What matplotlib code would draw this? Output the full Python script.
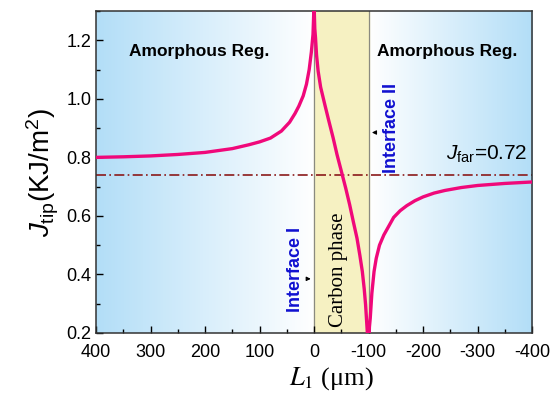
import matplotlib
matplotlib.use('Agg')
import matplotlib.pyplot as plt
from matplotlib.ticker import MultipleLocator
import numpy as np

# curve: L1 (um) vs J_tip (KJ/m^2)
x_left = [400, 350, 300, 250, 200, 150, 120, 100, 80, 60, 45, 35, 28, 20,
          14, 9, 5, 2, 0.5, 0]
j_left = [0.800, 0.802, 0.805, 0.810, 0.817, 0.830, 0.843, 0.853, 0.866,
          0.890, 0.920, 0.950, 0.975, 1.010, 1.050, 1.100, 1.160, 1.220,
          1.300, 1.350]
x_carbon = [-0.5, -1.3, -2.6, -4.5, -7.4, -12, -19.6, -27, -34.9, -42,
            -50.1, -58, -65.3, -72, -78.7, -84, -88.5, -92, -94.5, -97.6,
            -99]
j_carbon = [1.290, 1.240, 1.209, 1.150, 1.095, 1.040, 0.981, 0.925, 0.867,
            0.810, 0.752, 0.695, 0.638, 0.580, 0.524, 0.465, 0.410, 0.350,
            0.296, 0.204, 0.160]
x_right = [-100.5, -101.5, -103, -106, -110, -114, -120, -128, -137, -146,
           -158, -170, -185, -200, -220, -240, -270, -300, -350, -400]
j_right = [0.160, 0.220, 0.250, 0.336, 0.410, 0.455, 0.500, 0.535, 0.565,
           0.595, 0.618, 0.635, 0.652, 0.665, 0.678, 0.687, 0.697, 0.704,
           0.711, 0.716]
j_far_line = 0.74
j_far_label = 0.72
carbon_span = (0, -100)
xticks = [400, 300, 200, 100, 0, -100, -200, -300, -400]

sans = ['Liberation Sans', 'DejaVu Sans']
serif = ['Liberation Serif', 'DejaVu Serif']
plt.rcParams['font.family'] = sans
plt.rcParams['mathtext.fontset'] = 'custom'
plt.rcParams['mathtext.rm'] = 'Liberation Sans'
plt.rcParams['mathtext.it'] = 'Liberation Sans:italic'

fig = plt.figure(figsize=(5.52, 3.95), dpi=100)
ax = fig.add_axes([0.174, 0.157, 0.790, 0.815])

# background gradients (blue at outer edges, white near the carbon phase)
blue = np.array([0.70, 0.87, 0.97])
white = np.array([1.0, 1.0, 1.0])
t = np.linspace(0, 1, 256)
grad_l = (blue[None, :] * (1 - t[:, None]) + white[None, :] * t[:, None])[None, :, :]
ax.imshow(grad_l, extent=(400, carbon_span[0], 0.2, 1.3), aspect='auto', zorder=0)
grad_r = (white[None, :] * (1 - t[:, None]) + blue[None, :] * t[:, None])[None, :, :]
ax.imshow(grad_r, extent=(carbon_span[1], -400, 0.2, 1.3), aspect='auto', zorder=0)
ax.axvspan(carbon_span[0], carbon_span[1], color='#f6f1c2', zorder=0.5)
for xv in carbon_span:
    ax.axvline(xv, color='#8a8a80', lw=0.9, zorder=1)
ax.set_xlim(400, -400)
ax.set_ylim(0.2, 1.3)

ax.axhline(j_far_line, color='#8b1a1a', lw=1.2, ls=(0, (6, 2, 1, 2)), zorder=2)
ax.plot(x_left + x_carbon + x_right, j_left + j_carbon + j_right,
        color='#f0087a', lw=2.4, zorder=3, solid_joinstyle='round')

ax.set_xticks(xticks)
ax.set_xticklabels([str(v) for v in xticks])
ax.xaxis.set_minor_locator(MultipleLocator(50))
ax.yaxis.set_major_locator(MultipleLocator(0.2))
ax.yaxis.set_minor_locator(MultipleLocator(0.1))
ax.tick_params(which='both', direction='in', top=False, right=False,
               labelsize=13, width=1)
ax.tick_params(which='major', length=5)
ax.tick_params(which='minor', length=3)
ax.tick_params(axis='x', pad=8)
for s in ax.spines.values():
    s.set_linewidth(1.1)
    s.set_color('#333333')

ax.set_ylabel(r'$J_{\mathrm{tip}}$(KJ/m$^2$)', fontsize=20, labelpad=4)
ax.set_xlabel(r'$L_{\rm 1}$ (μm)', fontsize=19, family=serif,
              math_fontfamily='stix')
ax.xaxis.set_label_coords(0.54, -0.10)

ax.text(210, 1.162, 'Amorphous Reg.', fontsize=12.5, fontweight='bold',
        ha='center', va='center')
ax.text(-245, 1.162, 'Amorphous Reg.', fontsize=12.5, fontweight='bold',
        ha='center', va='center')
ax.text(35, 0.416, 'Interface I', fontsize=13, fontweight='bold',
        color='#1010d0', rotation=90, ha='center', va='center')
ax.text(-142, 0.902, 'Interface II', fontsize=13, fontweight='bold',
        color='#1010d0', rotation=90, ha='center', va='center')
ax.text(-45, 0.416, 'Carbon phase', fontsize=15, family=serif,
        rotation=90, ha='center', va='center')
ax.text(-391, 0.775, r'$J_{\mathrm{far}}$=%.2f' % j_far_label, fontsize=15,
        ha='right', va='bottom')

ax.annotate('', xy=(1, 0.385), xytext=(16, 0.385),
            arrowprops=dict(arrowstyle='-|>', color='black', lw=0.8,
                            mutation_scale=6))
ax.annotate('', xy=(-101, 0.885), xytext=(-118, 0.885),
            arrowprops=dict(arrowstyle='-|>', color='black', lw=0.8,
                            mutation_scale=6))

fig.savefig('out.png', dpi=100)
